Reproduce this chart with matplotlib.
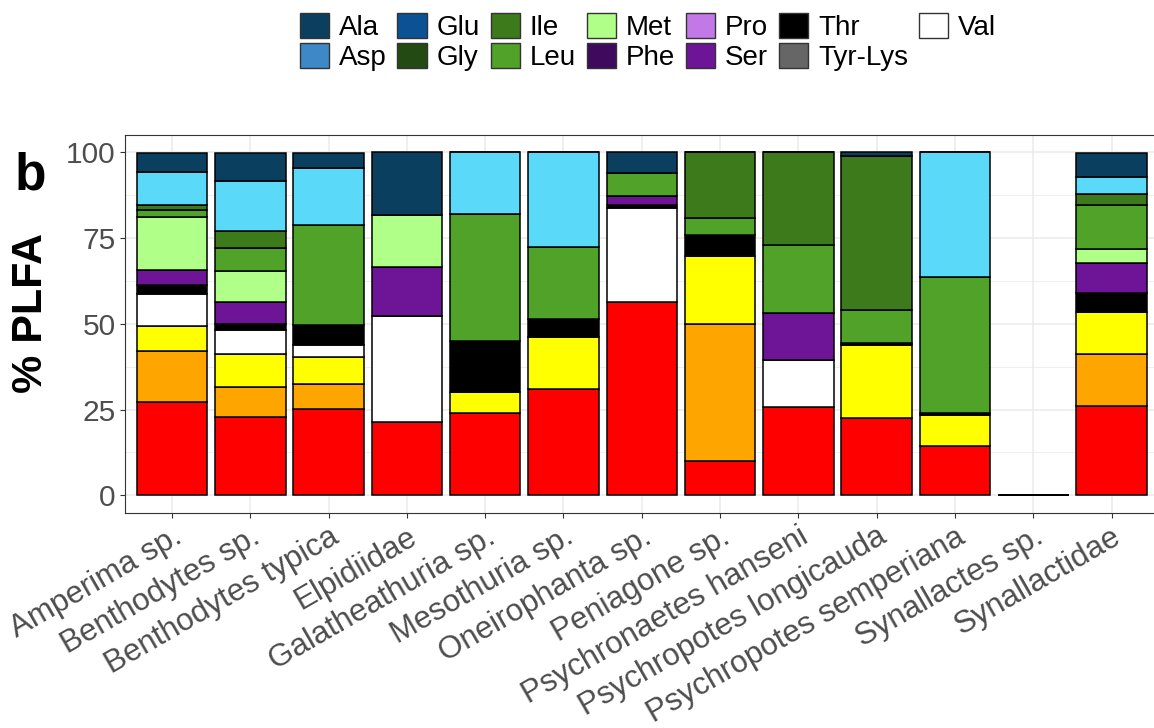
import matplotlib
matplotlib.use("Agg")
import matplotlib.pyplot as plt
from matplotlib.patches import Patch
import numpy as np

plt.rcParams['font.family'] = ['Liberation Sans', 'DejaVu Sans']

categories = ["Amperima sp.", "Benthodytes sp.", "Benthodytes typica", "Elpidiidae",
              "Galatheathuria sp.", "Mesothuria sp.", "Oneirophanta sp.", "Peniagone sp.",
              "Psychronaetes hanseni", "Psychropotes longicauda", "Psychropotes semperiana",
              "Synallactes sp.", "Synallactidae"]

# stacked segments, bottom to top
red    = [27.2, 22.7, 25.3, 21.4, 24.0, 31.0, 56.4,  9.9, 25.7, 22.4, 14.5, 0, 26.0]
orange = [14.8,  8.9,  7.0,  0.0,  0.0,  0.0,  0.0, 40.1,  0.0,  0.0,  0.0, 0, 15.3]
yellow = [ 7.3,  9.5,  8.0,  0.0,  6.0, 15.0,  0.0, 19.7,  0.0, 21.4,  9.0, 0, 12.0]
white  = [ 9.3,  7.2,  3.6, 30.8,  0.0,  0.0, 27.2,  0.0, 13.6,  0.0,  0.0, 0,  0.0]
black  = [ 2.6,  1.7,  5.6,  0.0, 14.9,  5.4,  0.9,  6.3,  0.0,  0.7,  0.5, 0,  5.7]
purple = [ 4.4,  6.3,  0.0, 14.4,  0.0,  0.0,  2.7,  0.0, 13.9,  0.0,  0.0, 0,  8.7]
ltgreen= [15.5,  9.2,  0.0, 15.0,  0.0,  0.0,  0.0,  0.0,  0.0,  0.0,  0.0, 0,  4.0]
green  = [ 2.0,  6.5, 29.2,  0.0, 37.1, 21.0,  6.6,  4.9, 19.7,  9.4, 39.6, 0, 12.8]
dkgreen= [ 1.5,  4.9,  0.0,  0.0,  0.0,  0.0,  0.0, 19.1, 27.1, 45.0,  0.0, 0,  3.2]
cyan   = [ 9.5, 14.7, 16.7,  0.0, 18.0, 27.6,  0.0,  0.0,  0.0,  0.0, 36.4, 0,  5.0]
navy   = [ 5.7,  8.2,  4.4, 18.4,  0.0,  0.0,  6.2,  0.0,  0.0,  1.2,  0.0, 0,  7.0]

segments = [red, orange, yellow, white, black, purple, ltgreen, green, dkgreen, cyan, navy]
seg_colors = ["#FF0000", "#FFA500", "#FFFF00", "#FFFFFF", "#000000", "#6E1496",
              "#B0FF88", "#50A228", "#3D7A1C", "#5AD9F9", "#0B3F5F"]

legend_labels = ["Ala", "Asp", "Glu", "Gly", "Ile", "Leu", "Met", "Phe", "Pro", "Ser",
                 "Thr", "Tyr-Lys", "Val"]
legend_colors = ["#0B3F5F", "#3F88C8", "#0B5295", "#234A12", "#3D7A1C", "#50A228",
                 "#B0FF88", "#3F0A5E", "#C278E6", "#6E1496", "#000000", "#666666", "#FFFFFF"]

fig = plt.figure(figsize=(11.54, 7.28), dpi=100)
W, H = 1154, 728
left_px, right_px, top_px, bot_px = 125, 1158.6, 135, 512.5
ax = fig.add_axes([left_px / W, 1 - bot_px / H, (right_px - left_px) / W, (bot_px - top_px) / H])

x = np.arange(1, len(categories) + 1)
bottom = np.zeros(len(categories))
for vals, col in zip(segments, seg_colors):
    v = np.array(vals, dtype=float)
    ax.bar(x, v, bottom=bottom, width=0.9, color=col, edgecolor="black", linewidth=1.1, zorder=3)
    bottom += v

ax.set_xlim(0.4, 13.6)
ax.set_ylim(-5, 105)
ax.set_yticks([0, 25, 50, 75, 100])
ax.set_yticks([12.5, 37.5, 62.5, 87.5], minor=True)
ax.set_xticks(x)
ax.set_xticklabels(categories, rotation=30, ha="right", va="top", rotation_mode="anchor",
                   fontsize=22.5)
ax.grid(which="major", color="#EBEBEB", linewidth=1.1, zorder=0)
ax.grid(which="minor", axis="y", color="#EBEBEB", linewidth=0.55, zorder=0)
ax.set_axisbelow(True)
for s in ax.spines.values():
    s.set_color("#333333")
    s.set_linewidth(0.8)
ax.tick_params(axis="both", which="major", colors="#333333", length=3.6, width=0.8,
               labelcolor="#4D4D4D", pad=3)
ax.tick_params(axis="y", which="major", labelsize=21.5)
ax.tick_params(axis="y", which="minor", length=0)
ax.set_ylabel("% PLFA", fontsize=31, fontweight="bold")
# label centre at x~31px, y~313px
ax.yaxis.set_label_coords((31 - left_px) / (right_px - left_px), (bot_px - 313) / (bot_px - top_px))
ax.yaxis.label.set_va("center")

fig.text(15 / W, 1 - 190 / H, "b", fontsize=37, fontweight="bold", ha="left", va="baseline")

handles = [Patch(facecolor=c, edgecolor="#333333", linewidth=1.0) for c in legend_colors]
fig.legend(handles, legend_labels, ncol=7, loc="upper center",
           bbox_to_anchor=(648 / W, 1 + 6 / H), frameon=False, fontsize=20,
           handlelength=1.05, handleheight=1.0, handletextpad=0.35,
           columnspacing=0.4, labelspacing=0.05, borderpad=0.2)

fig.savefig("out.png", dpi=100)
